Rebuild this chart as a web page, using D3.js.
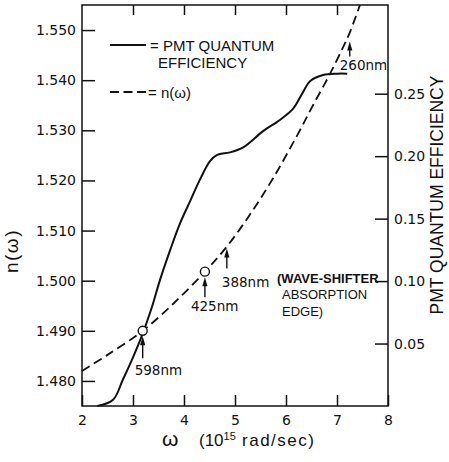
<!DOCTYPE html>
<html>
<head>
<meta charset="utf-8">
<script src="https://cdn.jsdelivr.net/npm/d3@7"></script>
<style>
  html, body { margin: 0; padding: 0; background: #fff; }
  svg { display: block; }
  text { fill: #111; }
</style>
</head>
<body>
<svg id="chart" width="449" height="462"></svg>
<script>
// ---- data ----
const xTicks = [2, 3, 4, 5, 6, 7, 8];
const nTicks = [1.48, 1.49, 1.50, 1.51, 1.52, 1.53, 1.54, 1.55];
const nTickLabels = ["1.480", "1.490", "1.500", "1.510", "1.520", "1.530", "1.540", "1.550"];
const qeTicks = [0.05, 0.10, 0.15, 0.20, 0.25];
const qeTickLabels = ["0.05", "0.10", "0.15", "0.20", "0.25"];

// refractive index n(omega) (dashed)
const omegaN = [2.0, 2.5, 3.19, 3.8, 4.41, 4.84, 5.3, 5.75, 6.22, 6.53, 6.86, 7.12, 7.25, 7.45];
const nValues = [1.4820, 1.4852, 1.4900, 1.4955, 1.5018, 1.5068, 1.5133, 1.5205, 1.5290, 1.5350, 1.5412, 1.5466, 1.5495, 1.5550];

// PMT quantum efficiency (solid)
const omegaQE = [2.30, 2.61, 2.80, 3.00, 3.19, 3.37, 3.53, 3.73, 3.92, 4.12, 4.31, 4.51, 4.65, 4.90, 5.16, 5.55, 5.88, 6.14, 6.33, 6.47, 6.73, 7.00, 7.20];
const qeValues = [0.000, 0.005, 0.021, 0.039, 0.058, 0.079, 0.101, 0.125, 0.146, 0.164, 0.181, 0.196, 0.201, 0.203, 0.207, 0.220, 0.229, 0.238, 0.251, 0.260, 0.265, 0.266, 0.266];

// wavelength markers on n(omega)
const markerLabels = ["598nm", "425nm", "388nm", "260nm"];
const markerOmega = [3.19, 4.41, 4.84, 7.25];
const markerN = [1.4900, 1.5018, 1.5068, 1.5495];
const markerCircle = [true, true, false, false];

// ---- layout ----
const svg = d3.select("#chart");
const x = d3.scaleLinear().domain([2, 8]).range([82, 388]);
const yL = d3.scaleLinear().domain([1.475, 1.555]).range([406, 5]);
const yR = d3.scaleLinear().domain([0, 0.321]).range([406, 5]);
const ink = "#111";
const numFont = "DejaVu Sans, sans-serif";
const txtFont = "Liberation Sans, Arial, sans-serif";

// frame
svg.append("rect").attr("x", 82).attr("y", 5).attr("width", 306).attr("height", 401)
  .attr("fill", "none").attr("stroke", ink).attr("stroke-width", 1.5);

// bottom axis (ticks inward)
const axB = d3.axisBottom(x).tickValues(xTicks).tickSizeInner(-11).tickSizeOuter(0).tickPadding(9).tickFormat(d3.format("d"));
const gB = svg.append("g").attr("transform", "translate(0,406)").call(axB);
// top axis ticks (inward)
const axT = d3.axisTop(x).tickValues([3, 4, 5, 6, 7]).tickSizeInner(-10).tickSizeOuter(0).tickFormat("");
const gT = svg.append("g").attr("transform", "translate(0,5)").call(axT);
// left axis
const axL = d3.axisLeft(yL).tickValues(nTicks).tickSizeInner(-13).tickSizeOuter(0).tickPadding(6)
  .tickFormat((d, i) => nTickLabels[i]);
const gL = svg.append("g").attr("transform", "translate(82,0)").call(axL);
// right axis
const axR = d3.axisRight(yR).tickValues(qeTicks).tickSizeInner(-13).tickSizeOuter(0).tickPadding(6)
  .tickFormat((d, i) => qeTickLabels[i]);
const gR = svg.append("g").attr("transform", "translate(388,0)").call(axR);

[gB, gT, gL, gR].forEach(g => {
  g.select(".domain").remove();
  g.selectAll(".tick line").attr("stroke", ink).attr("stroke-width", 1.5);
  g.selectAll(".tick text").attr("fill", ink).attr("font-family", numFont).attr("font-size", 14);
});
gL.selectAll(".tick text").attr("x", -6);
gR.selectAll(".tick text").attr("x", 6);
gB.selectAll(".tick text").attr("y", 9).attr("dy", "0.71em");

// curves
const lineN = d3.line().x((d, i) => x(omegaN[i])).y((d, i) => yL(nValues[i])).curve(d3.curveCatmullRom.alpha(0.5));
svg.append("path").attr("d", lineN(omegaN)).attr("fill", "none").attr("stroke", ink)
  .attr("stroke-width", 1.8).attr("stroke-dasharray", "9,5");

const lineQE = d3.line().x((d, i) => x(omegaQE[i])).y((d, i) => yR(qeValues[i])).curve(d3.curveCatmullRom.alpha(0.5));
svg.append("path").attr("d", lineQE(omegaQE)).attr("fill", "none").attr("stroke", ink)
  .attr("stroke-width", 2);

// markers: circles, arrows, labels
const arrowOffset = [5.5, 5.5, 2, 9];
const arrowLen = [22, 20, 20, 15];
const labelDy = [39, 34, 38, 28];
const labelDx = [-8, -14, -5, -10];
markerOmega.forEach((w, i) => {
  const cx = x(w), cy = yL(markerN[i]);
  if (markerCircle[i]) {
    svg.append("circle").attr("cx", cx).attr("cy", cy).attr("r", 4.5)
      .attr("fill", "#fff").attr("stroke", ink).attr("stroke-width", 1.4);
  }
  const tip = cy + arrowOffset[i];
  svg.append("line").attr("x1", cx).attr("x2", cx).attr("y1", tip + 4).attr("y2", tip + arrowLen[i])
    .attr("stroke", ink).attr("stroke-width", 1.4);
  svg.append("path").attr("d", `M${cx},${tip} L${cx - 2.6},${tip + 9} L${cx + 2.6},${tip + 9} Z`).attr("fill", ink);
  svg.append("text").attr("x", cx + labelDx[i]).attr("y", tip + labelDy[i])
    .attr("font-family", numFont).attr("font-size", 13.5).attr("fill", ink)
    .text(markerLabels[i]);
});

// wave-shifter note
const note = svg.append("g").attr("font-family", txtFont).attr("font-size", 13).attr("fill", ink);
note.append("text").attr("x", 277).attr("y", 283).attr("font-weight", "bold").text("(WAVE-SHIFTER");
note.append("text").attr("x", 282).attr("y", 299).text("ABSORPTION");
note.append("text").attr("x", 282).attr("y", 316).text("EDGE)");

// legend
svg.append("line").attr("x1", 110).attr("x2", 146).attr("y1", 45).attr("y2", 45)
  .attr("stroke", ink).attr("stroke-width", 1.8);
svg.append("text").attr("x", 150).attr("y", 50.5).attr("font-family", txtFont).attr("font-size", 15)
  .text("= PMT QUANTUM");
svg.append("text").attr("x", 158).attr("y", 68).attr("font-family", txtFont).attr("font-size", 15)
  .text("EFFICIENCY");
svg.append("line").attr("x1", 110).attr("x2", 146).attr("y1", 92).attr("y2", 92)
  .attr("stroke", ink).attr("stroke-width", 1.8).attr("stroke-dasharray", "9,4.5");
svg.append("text").attr("x", 148).attr("y", 98).attr("font-family", txtFont).attr("font-size", 15)
  .text("= n(ω)");

// axis titles
svg.append("text").attr("transform", "translate(18,251) rotate(-90)").attr("text-anchor", "middle")
  .attr("font-family", txtFont).attr("font-size", 19).attr("letter-spacing", 1.5).text("n(ω)");
svg.append("text").attr("transform", "translate(443,195) rotate(-90)").attr("text-anchor", "middle")
  .attr("font-family", txtFont).attr("font-size", 17.5).text("PMT QUANTUM EFFICIENCY");

const xt = svg.append("text").attr("y", 446).attr("font-family", txtFont).attr("font-size", 17).attr("fill", ink);
xt.append("tspan").attr("x", 162).attr("font-size", 21).text("ω");
xt.append("tspan").attr("x", 199).text("(10");
xt.append("tspan").attr("dy", -6).attr("font-size", 11).text("15");
xt.append("tspan").attr("dy", 6).attr("letter-spacing", 1.5).text(" rad/sec)");
</script>
</body>
</html>
